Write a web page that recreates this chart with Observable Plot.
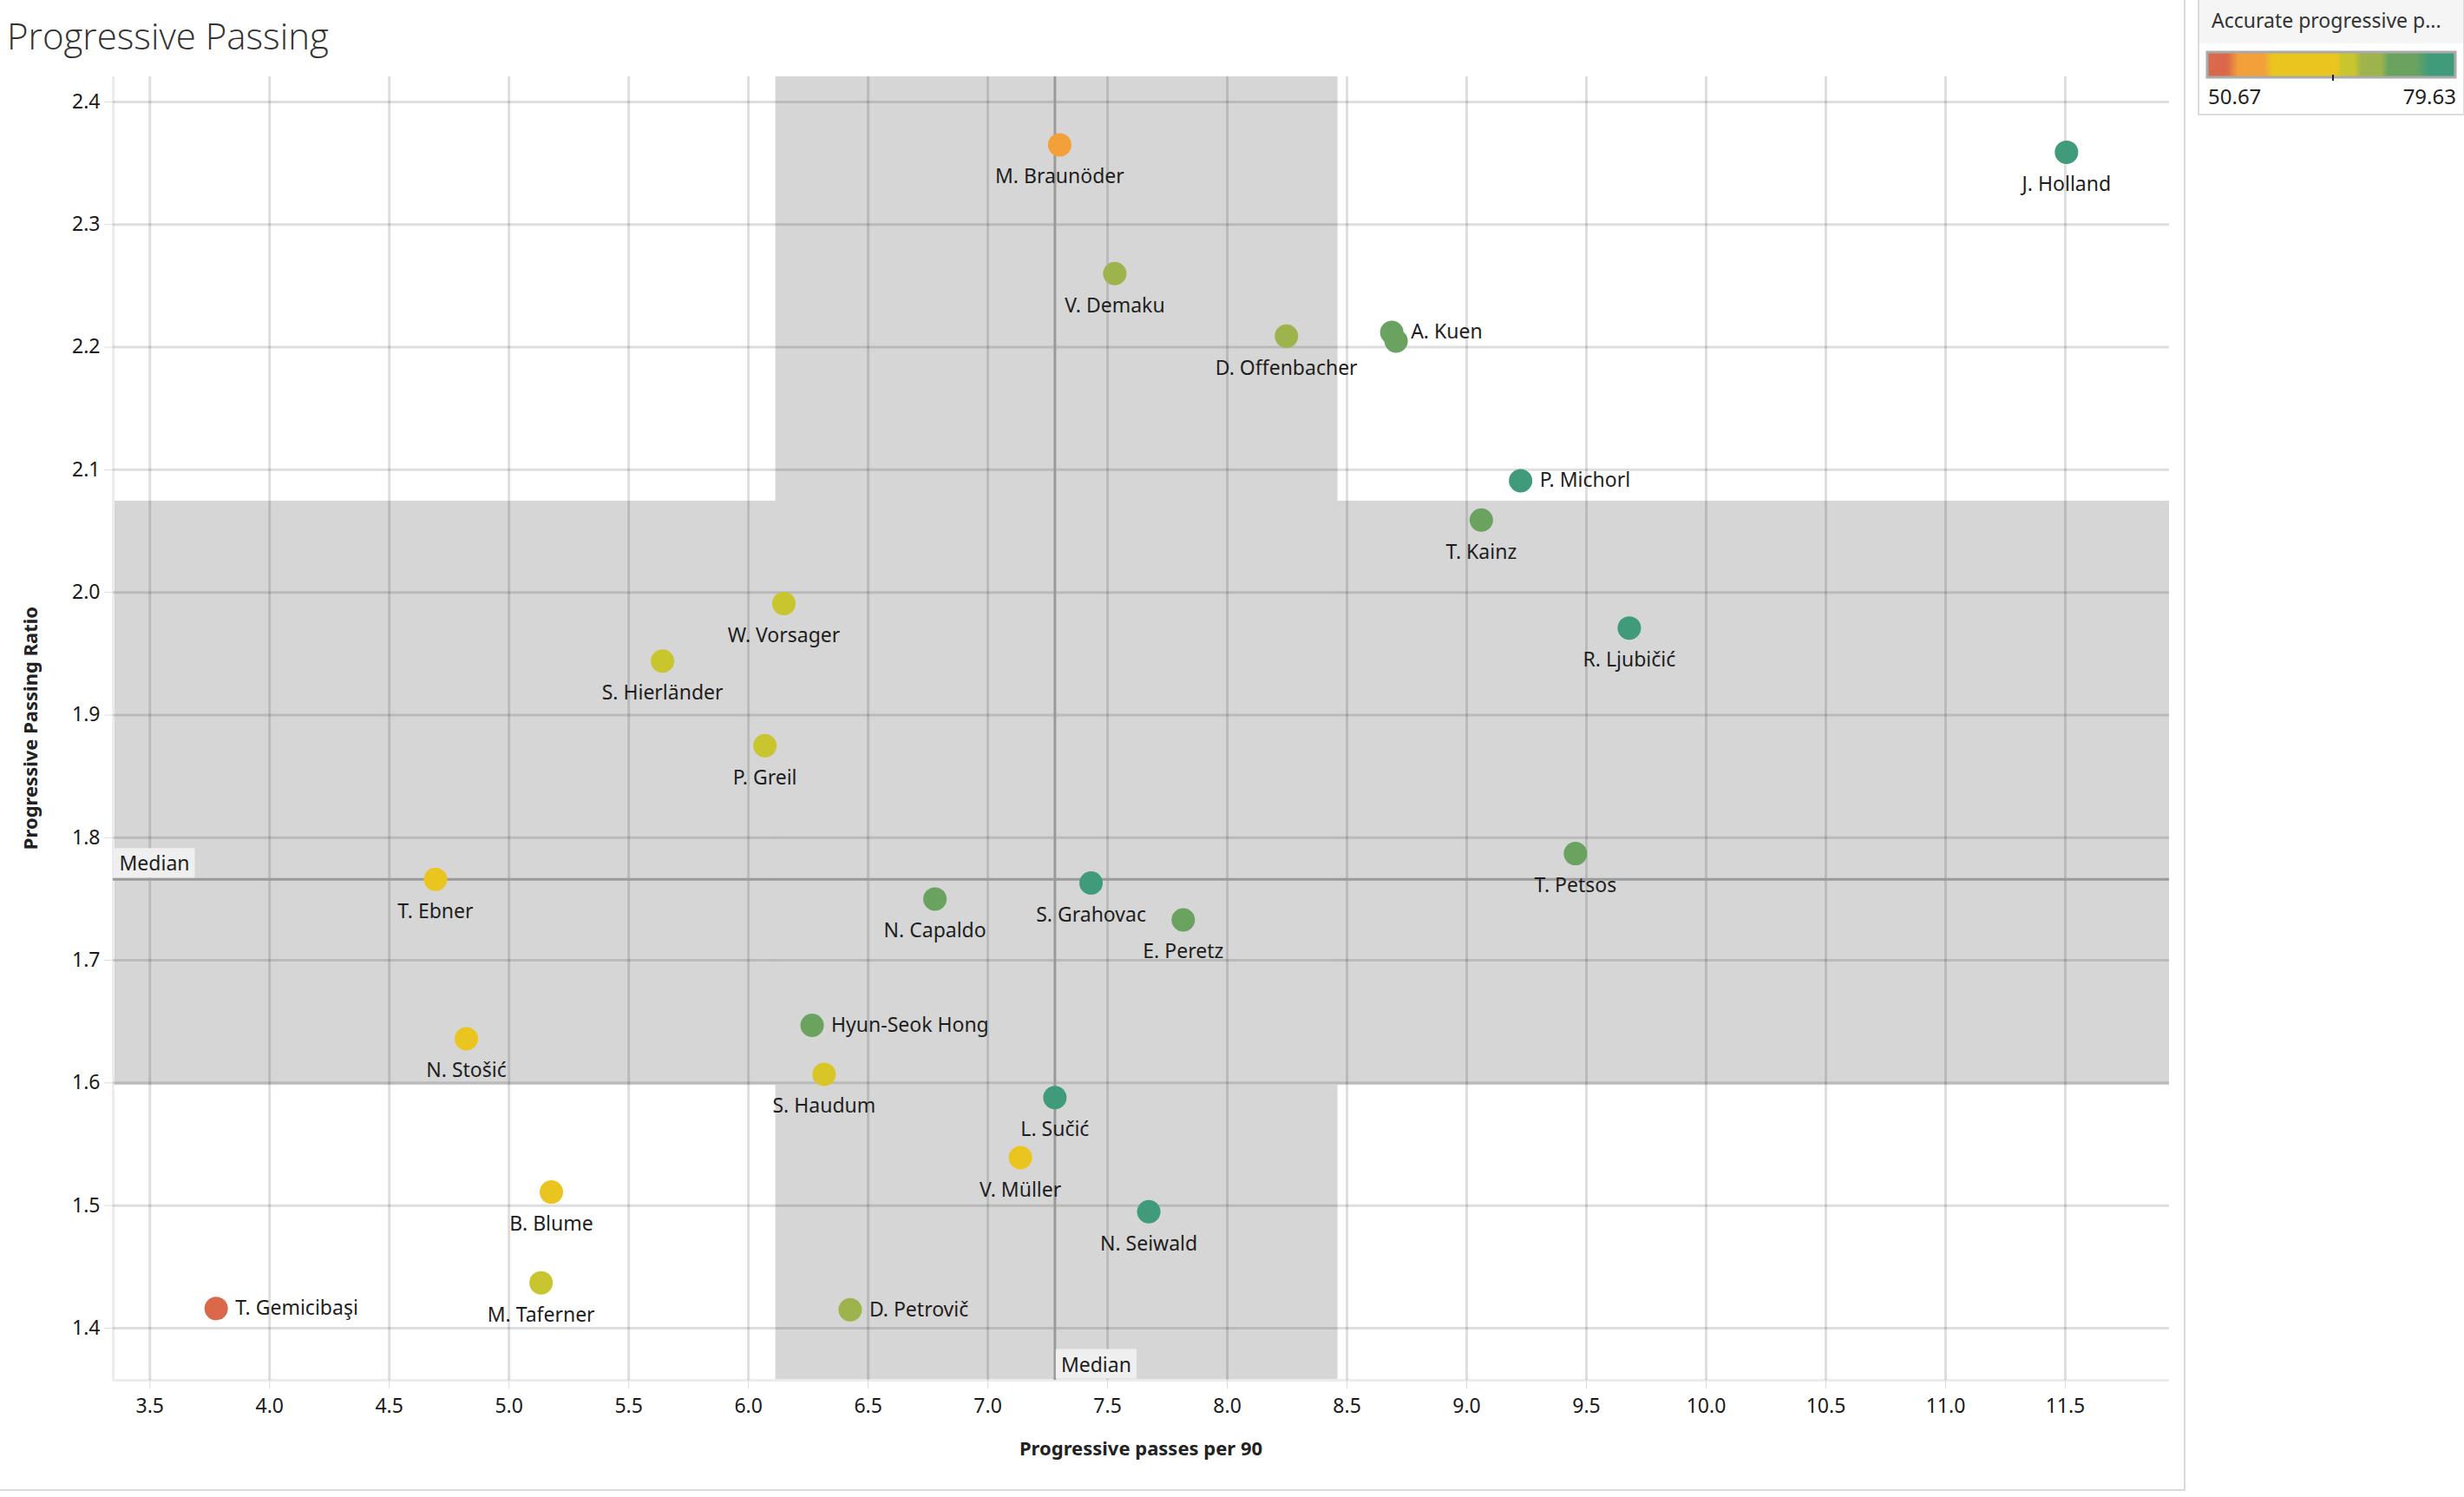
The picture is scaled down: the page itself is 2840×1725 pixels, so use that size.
<!DOCTYPE html>
<html><head><meta charset="utf-8">
<script src="https://cdn.jsdelivr.net/npm/d3@7"></script>
<script src="https://cdn.jsdelivr.net/npm/@observablehq/plot@0.6"></script>
<style>
body{margin:0;background:#fff;width:2840px;height:1725px;position:relative;overflow:hidden;font-family:"Noto Sans",sans-serif;color:#222}
#chart{position:absolute;left:0;top:0}
#frame{position:absolute;left:0;top:0;width:2517px;height:1716px;border-right:2px solid #dadada;border-bottom:2px solid #dadada;pointer-events:none}
#title{position:absolute;left:8px;top:20px;font-family:"Open Sans","Noto Sans",sans-serif;font-weight:300;font-size:42px;line-height:1;color:#333;white-space:nowrap}
#xtitle{position:absolute;left:1315px;top:1657px;transform:translateX(-50%);font-weight:bold;font-size:22px;line-height:1;white-space:nowrap;color:#222}
#ytitle{position:absolute;left:34px;top:839px;transform:translate(-50%,-50%) rotate(-90deg);font-weight:bold;font-size:22px;line-height:1;white-space:nowrap;color:#222}
#legendBox{position:absolute;left:2533px;top:0;width:304px;height:131px;border-left:2px solid #dcdcdc;border-right:2px solid #dcdcdc;border-bottom:2px solid #dcdcdc;background:#fff}
#legendHead{position:absolute;left:0;top:0;width:100%;height:50px;background:#f5f5f5}
#legendTitle{position:absolute;left:14px;top:12px;font-size:23px;line-height:1;color:#333;white-space:nowrap}
#legendRamp{position:absolute;left:9px;top:60px}
#legendMin{position:absolute;left:10px;top:99px;font-size:24px;line-height:1;color:#222}
#legendMax{position:absolute;right:8px;top:99px;font-size:24px;line-height:1;color:#222}
</style></head><body>
<div id="chart"></div>
<div id="frame"></div>
<div id="title">Progressive Passing</div>
<div id="xtitle">Progressive passes per 90</div>
<div id="ytitle">Progressive Passing Ratio</div>
<div id="legendBox">
  <div id="legendHead"><div id="legendTitle">Accurate progressive p...</div></div>
  <div id="legendRamp"></div>
  <div id="legendMin"></div>
  <div id="legendMax"></div>
</div>
<script>
// ---- data ----
const players = ["M. Braunöder","J. Holland","V. Demaku","D. Offenbacher","A. Kuen","","P. Michorl","T. Kainz","R. Ljubičić","W. Vorsager","S. Hierländer","P. Greil","T. Ebner","N. Stošić","Hyun-Seok Hong","S. Haudum","B. Blume","M. Taferner","T. Gemicibaşi","D. Petrovič","N. Capaldo","S. Grahovac","E. Peretz","L. Sučić","V. Müller","N. Seiwald","T. Petsos"];
const passesPer90 = [7.300,11.505,7.530,8.247,8.687,8.705,9.225,9.061,9.679,6.148,5.641,6.069,4.693,4.822,6.266,6.316,5.177,5.134,3.777,6.425,6.779,7.431,7.816,7.280,7.136,7.672,9.454];
const ratio = [2.365,2.359,2.260,2.209,2.212,2.205,2.091,2.059,1.971,1.991,1.944,1.875,1.766,1.636,1.647,1.607,1.511,1.437,1.416,1.415,1.750,1.763,1.733,1.588,1.539,1.495,1.787];
const accuracy = [55.6,79.63,69.6,70.2,73.3,73.0,78.2,72.9,77.8,66.8,67.1,66.6,61.6,62.8,72.4,66.1,60.3,67.3,50.67,69.9,73.8,77.3,74.1,78.7,62.3,77.6,73.6];
const rightLabelled = ["A. Kuen","P. Michorl","Hyun-Seok Hong","T. Gemicibaşi","D. Petrovič"];

const xTicks = [3.5,4.0,4.5,5.0,5.5,6.0,6.5,7.0,7.5,8.0,8.5,9.0,9.5,10.0,10.5,11.0,11.5];
const yTicks = [1.4,1.5,1.6,1.7,1.8,1.9,2.0,2.1,2.2,2.3,2.4];
const xDomain = [3.347, 11.935];
const yDomain = [1.3575, 2.4205];

const medianX = 7.28;
const medianY = 1.766;
const bandX = [6.114, 8.462];
const bandY = [1.598, 2.0745];

const colorStops = [50.67,53.0,54.3,57.3,58.3,65.9,66.3,67.9,68.7,71.0,71.8,75.0,76.6,79.63];
const colorRange = ["#d9694a","#d9694a","#f2a13a","#f2a13a","#ebc51f","#ebc51f","#c8c52f","#c8c52f","#9db34c","#9db34c","#6aa35f","#6aa35f","#3f9b7a","#3f9b7a"];
const legendCenter = 65.3;

// ---- build ----
const data = players.map((name, i) => ({name, x: passesPer90[i], y: ratio[i], acc: accuracy[i], right: rightLabelled.includes(name)}));
const colorScale = {type: "linear", domain: colorStops, range: colorRange};
const gridStyle = {stroke: "#000", strokeOpacity: 0.13, strokeWidth: 3};

const chart = Plot.plot({
  width: 2519, height: 1718,
  marginLeft: 130, marginRight: 19, marginTop: 88, marginBottom: 128,
  style: {fontFamily: '"Noto Sans", sans-serif', fontSize: "23px", color: "#222", background: "transparent", overflow: "visible"},
  x: {domain: xDomain},
  y: {domain: yDomain},
  color: colorScale,
  marks: [
    Plot.rect([bandY], {x1: () => xDomain[0], x2: () => xDomain[1], y1: d => d[0], y2: d => d[1], fill: "#d6d6d6"}),
    Plot.rect([bandX], {x1: d => d[0], x2: d => d[1], y1: () => yDomain[0], y2: () => yDomain[1], fill: "#d6d6d6"}),
    Plot.ruleX([xDomain[0]], {stroke: "#ececec", strokeWidth: 3}),
    Plot.ruleY([yDomain[0]], {stroke: "#ececec", strokeWidth: 3}),
    Plot.ruleX(xTicks, gridStyle),
    Plot.ruleY(yTicks, gridStyle),
    Plot.ruleX([medianX], {stroke: "#9a9a9a", strokeWidth: 3}),
    Plot.ruleY([medianY], {stroke: "#9a9a9a", strokeWidth: 3}),
    Plot.axisX({ticks: xTicks, tickFormat: d => d.toFixed(1), tickSize: 10, tickPadding: 11, stroke: "#dcdcdc", fill: "#1a1a1a", label: null}),
    Plot.axisY({ticks: yTicks, tickFormat: d => d.toFixed(1), tickSize: 10, tickPadding: 5, stroke: "#dcdcdc", fill: "#1a1a1a", label: null}),
    Plot.dot(data, {x: "x", y: "y", r: 13.5, fill: "acc"}),
    Plot.text(data.filter(d => d.name && !d.right), {x: "x", y: "y", text: "name", lineAnchor: "bottom", dy: 44.5, fill: "#1e1e1e"}),
    Plot.text(data.filter(d => d.right), {x: "x", y: "y", text: "name", textAnchor: "start", dx: 22, fill: "#1e1e1e"}),
    Plot.text(["Median"], {x: () => xDomain[0], y: () => medianY, textAnchor: "start", lineAnchor: "bottom", dx: 7, dy: -10, fill: "#1e1e1e"}),
    Plot.text(["Median"], {x: () => medianX, y: () => yDomain[0], textAnchor: "start", lineAnchor: "bottom", dx: 7, dy: -10, fill: "#1e1e1e"})
  ]
});
document.getElementById("chart").appendChild(chart);

// background boxes behind the "Median" labels
chart.querySelectorAll("text").forEach(t => {
  if (t.textContent === "Median") {
    const b = t.getBBox();
    const r = document.createElementNS("http://www.w3.org/2000/svg", "rect");
    r.setAttribute("x", b.x - 6);
    r.setAttribute("y", b.y - 1);
    r.setAttribute("width", b.width + 12);
    r.setAttribute("height", b.height + 2);
    r.setAttribute("fill", "#efefef");
    const tr = t.getAttribute("transform");
    if (tr) r.setAttribute("transform", tr);
    t.parentNode.insertBefore(r, t);
  }
});

// legend
const [accMin, accMax] = d3.extent(accuracy);
const steps = 143;
const ramp = d3.range(steps).map(i => ({a: accMin + (accMax - accMin) * i / steps, b: accMin + (accMax - accMin) * (i + 1) / steps}));
const legend = Plot.plot({
  width: 286, height: 36, margin: 0,
  x: {domain: [accMin, accMax], axis: null},
  y: {domain: [0, 1], axis: null},
  color: colorScale,
  style: {background: "transparent", overflow: "visible"},
  marks: [
    Plot.rect(ramp, {x1: "a", x2: "b", y1: () => 0.194, y2: () => 1, fill: "a", insetLeft: -0.6, insetRight: -0.6, shapeRendering: "crispEdges"}),
    Plot.rect([0], {x1: () => accMin, x2: () => accMax, y1: () => 0.194, y2: () => 1, stroke: "#aaa", strokeWidth: 3, fill: "none"}),
    Plot.ruleX([legendCenter], {y1: () => 0.083, y2: () => 0.278, stroke: "#222", strokeWidth: 2})
  ]
});
document.getElementById("legendRamp").appendChild(legend);
document.getElementById("legendMin").textContent = accMin.toFixed(2);
document.getElementById("legendMax").textContent = accMax.toFixed(2);
</script>
</body></html>
